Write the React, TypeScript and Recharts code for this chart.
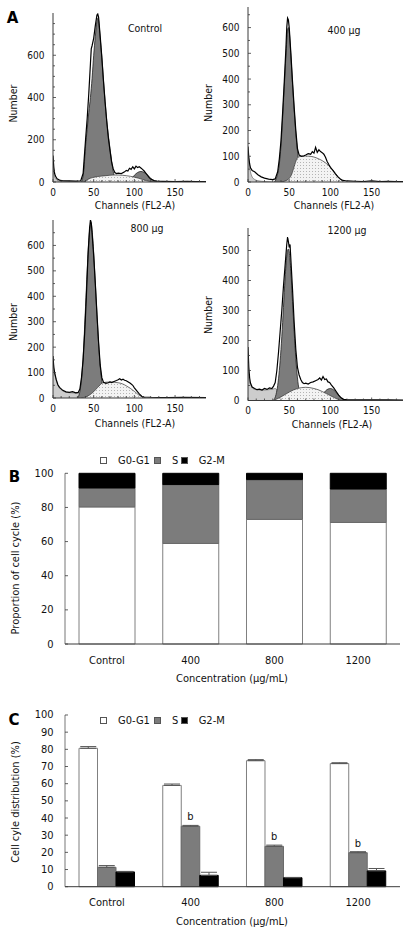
import React from "react";
import {
  Area,
  Bar,
  BarChart,
  ComposedChart,
  ErrorBar,
  LabelList,
  Line,
  XAxis,
  YAxis,
} from "recharts";

const FONT = "'DejaVu Sans Condensed', 'Liberation Sans', sans-serif";
const AXIS = "#3a3a3a";
const DARK = "#7c7c7c";
const LIGHT = "#cdcdcd";

type Pt = [number, number];

// ---- Panel A: histograms, [channel, count] ----
const CHANNEL_TICKS = [0, 10, 20, 30, 40, 50, 60, 70, 80, 90, 100, 110, 120, 130, 140, 150, 160, 170, 180];
const CHANNEL_LABELS = [0, 50, 100, 150];

const CTRL_DEBRIS: Pt[] = [[0, 90], [1, 45], [2, 25], [4, 12], [6, 6], [10, 3], [20, 2], [30, 0]];
const CTRL_G1: Pt[] = [[35, 0], [38, 60], [40, 170], [42, 250], [44, 330], [46, 400], [48, 490], [50, 600], [52, 690], [54, 760], [55, 775], [56, 765], [58, 680], [60, 590], [62, 480], [64, 380], [66, 290], [68, 220], [70, 160], [72, 100], [74, 50], [76, 15], [78, 0]];
const CTRL_S: Pt[] = [[38, 0], [42, 10], [46, 18], [50, 22], [55, 26], [60, 28], [65, 30], [70, 32], [75, 33], [80, 33], [85, 32], [90, 30], [95, 27], [100, 23], [105, 18], [110, 12], [115, 6], [120, 2], [125, 0]];
const CTRL_G2: Pt[] = [[92, 0], [96, 15], [100, 32], [104, 45], [108, 50], [112, 45], [116, 33], [120, 18], [124, 7], [128, 0]];
const CTRL_RAW: Pt[] = [[0, 125], [1, 70], [2, 40], [3, 28], [5, 15], [8, 9], [12, 6], [20, 5], [28, 4], [34, 5], [37, 40], [40, 200], [42, 300], [44, 420], [46, 560], [47, 630], [48, 645], [50, 680], [52, 740], [54, 790], [55, 795], [56, 780], [58, 690], [60, 590], [62, 480], [64, 380], [66, 290], [68, 210], [70, 150], [72, 95], [74, 62], [76, 45], [78, 40], [80, 42], [84, 40], [88, 48], [90, 55], [92, 52], [94, 65], [96, 60], [98, 72], [100, 62], [102, 75], [104, 68], [106, 72], [108, 66], [110, 60], [112, 52], [114, 42], [116, 32], [118, 22], [120, 14], [124, 7], [128, 4], [135, 3], [150, 2], [165, 3], [175, 2], [188, 2]];

const D400_DEBRIS: Pt[] = [[0, 120], [1, 90], [2, 60], [3, 40], [5, 20], [8, 10], [12, 5], [20, 2], [30, 0]];
const D400_G1: Pt[] = [[32, 0], [35, 20], [38, 70], [40, 140], [42, 250], [44, 370], [46, 490], [48, 590], [49, 600], [50, 585], [52, 490], [54, 380], [56, 280], [58, 190], [60, 120], [62, 65], [65, 25], [68, 8], [72, 0]];
const D400_S: Pt[] = [[40, 0], [45, 4], [50, 14], [53, 30], [56, 60], [59, 88], [62, 98], [65, 100], [70, 101], [75, 100], [80, 97], [85, 91], [90, 83], [95, 72], [100, 57], [105, 38], [110, 18], [113, 7], [116, 0]];
const D400_G2: Pt[] = [];
const D400_RAW: Pt[] = [[0, 138], [1, 95], [2, 70], [3, 55], [5, 45], [8, 40], [12, 28], [16, 20], [20, 15], [25, 11], [30, 9], [33, 12], [36, 40], [38, 90], [40, 160], [42, 270], [44, 390], [46, 520], [47, 600], [48, 637], [49, 630], [50, 600], [52, 500], [54, 390], [56, 290], [58, 200], [60, 130], [62, 105], [65, 100], [68, 102], [70, 105], [73, 110], [76, 108], [78, 118], [80, 112], [82, 135], [84, 115], [86, 125], [88, 118], [90, 114], [92, 108], [94, 96], [96, 80], [98, 68], [100, 57], [103, 45], [106, 32], [109, 20], [112, 12], [115, 6], [120, 4], [130, 3], [140, 2], [150, 4], [160, 2], [170, 3], [180, 2], [188, 2]];

const D800_DEBRIS: Pt[] = [[0, 150], [1, 120], [2, 98], [4, 70], [6, 50], [8, 40], [12, 28], [16, 23], [20, 21], [25, 20], [30, 19], [33, 15], [36, 5], [40, 0]];
const D800_G1: Pt[] = [[30, 0], [33, 25], [36, 110], [38, 220], [40, 360], [42, 500], [44, 620], [46, 680], [47, 685], [48, 660], [50, 570], [52, 450], [54, 330], [56, 215], [58, 125], [60, 65], [62, 28], [65, 8], [70, 0]];
const D800_S: Pt[] = [[35, 0], [40, 4], [45, 12], [50, 25], [55, 42], [58, 52], [60, 58], [65, 62], [70, 63], [75, 62], [80, 60], [85, 56], [90, 48], [95, 38], [100, 26], [105, 13], [110, 4], [114, 0]];
const D800_G2: Pt[] = [];
const D800_RAW: Pt[] = [[0, 165], [1, 120], [2, 100], [4, 72], [6, 52], [8, 42], [12, 30], [16, 24], [20, 22], [24, 25], [28, 20], [31, 22], [33, 35], [35, 80], [37, 150], [39, 260], [41, 400], [43, 560], [45, 670], [46, 700], [47, 690], [48, 650], [50, 560], [52, 450], [54, 330], [56, 220], [58, 130], [60, 80], [62, 62], [65, 58], [68, 60], [70, 63], [72, 61], [75, 65], [78, 69], [80, 72], [82, 76], [84, 71], [86, 74], [88, 70], [90, 68], [92, 64], [95, 58], [98, 50], [100, 40], [103, 28], [106, 16], [109, 7], [112, 4], [120, 3], [140, 2], [160, 3], [188, 2]];

const D1200_DEBRIS: Pt[] = [[0, 120], [1, 80], [2, 62], [4, 48], [6, 40], [10, 36], [15, 35], [20, 35], [25, 36], [30, 38], [33, 40], [36, 30], [40, 10], [43, 0]];
const D1200_G1: Pt[] = [[31, 0], [34, 20], [36, 50], [38, 100], [40, 170], [42, 260], [44, 360], [46, 450], [48, 500], [49, 505], [50, 495], [52, 430], [54, 330], [56, 230], [58, 140], [60, 75], [62, 35], [65, 10], [70, 0]];
const D1200_S: Pt[] = [[30, 0], [35, 5], [40, 12], [45, 20], [50, 28], [55, 35], [60, 40], [65, 43], [70, 44], [75, 43], [80, 40], [85, 36], [90, 30], [95, 23], [100, 16], [105, 9], [110, 3], [115, 0]];
const D1200_G2: Pt[] = [[85, 0], [88, 10], [91, 22], [94, 32], [97, 38], [100, 40], [103, 37], [106, 30], [109, 20], [112, 10], [116, 3], [120, 0]];
const D1200_RAW: Pt[] = [[0, 178], [1, 110], [2, 75], [3, 58], [5, 45], [8, 40], [11, 36], [14, 38], [17, 35], [20, 40], [23, 37], [26, 42], [29, 40], [31, 48], [33, 60], [35, 100], [37, 160], [39, 230], [41, 300], [43, 380], [45, 450], [47, 520], [48, 545], [49, 530], [50, 510], [51, 520], [52, 470], [54, 370], [56, 260], [58, 170], [60, 110], [62, 85], [64, 70], [66, 60], [68, 56], [70, 58], [73, 55], [76, 60], [79, 62], [82, 66], [85, 70], [87, 75], [89, 68], [91, 80], [93, 70], [95, 72], [97, 62], [99, 60], [101, 52], [104, 42], [107, 30], [110, 18], [113, 9], [116, 4], [120, 3], [130, 2], [150, 2], [170, 2], [188, 1]];

// ---- Panels B and C ----
const CONCS = ["Control", "400", "800", "1200"];
const PHASES = ["G0-G1", "S", "G2-M"];

const B_G1 = [80.3, 58.9, 73.0, 71.2];
const B_S = [11.1, 34.5, 23.3, 19.6];
const B_G2M = [8.6, 6.6, 3.7, 9.2];

const C_G1 = [80.6, 59.0, 73.4, 71.7];
const C_G1_ERR = [1.0, 0.8, 0.6, 0.5];
const C_S = [11.3, 35.2, 23.5, 19.8];
const C_S_ERR = [1.0, 0.5, 0.7, 0.6];
const C_G2M = [8.6, 6.6, 5.2, 9.2];
const C_G2M_ERR = [0.3, 1.8, 0.2, 1.4];
const C_SIG = ["", "b", "b", "b"];

const B_TICKS = [0, 20, 40, 60, 80, 100];
const C_TICKS = [0, 10, 20, 30, 40, 50, 60, 70, 80, 90, 100];

function buildRows(series: Record<string, Pt[]>) {
  const map = new Map<number, Record<string, number>>();
  for (const [key, pts] of Object.entries(series)) {
    for (const [c, v] of pts) {
      const row = map.get(c) ?? { ch: c };
      row[key] = v;
      map.set(c, row);
    }
  }
  return [...map.values()].sort((a, b) => a.ch - b.ch);
}

function HistXTick(props: any) {
  const { x, y, payload } = props;
  const v = payload.value;
  const lab = CHANNEL_LABELS.includes(v);
  return (
    <g>
      <line x1={x} x2={x} y1={y} y2={y - (lab ? 3 : 2)} stroke={AXIS} strokeWidth={0.8} />
      {lab && (
        <text x={x} y={y + 10} textAnchor="middle" dominantBaseline="central" fontFamily={FONT} fontSize={10} fill="#111">
          {v}
        </text>
      )}
    </g>
  );
}

const histYTick = (labels: number[]) => (props: any) => {
  const { x, y, payload } = props;
  const v = payload.value;
  const lab = labels.includes(v);
  return (
    <g>
      <line x1={x} x2={x + (lab ? 3 : 2)} y1={y} y2={y} stroke={AXIS} strokeWidth={0.8} />
      {lab && (
        <text x={x - 8.5} y={y} textAnchor="end" dominantBaseline="central" fontFamily={FONT} fontSize={10} fill="#111">
          {v}
        </text>
      )}
    </g>
  );
};

type HistProps = {
  id: string;
  debris: Pt[];
  g1: Pt[];
  s: Pt[];
  g2: Pt[];
  raw: Pt[];
  yMax: number;
  yTicks: number[];
  yLabels: number[];
  plotLeft: number;
  plotTop: number;
  plotW: number;
  plotH: number;
};

function Histogram({ id, debris, g1, s, g2, raw, yMax, yTicks, yLabels, plotLeft, plotTop, plotW, plotH }: HistProps) {
  const rows = buildRows({ debris, g1, s, g2, raw });
  const width = 53 + plotW + 4;
  const height = 4 + plotH + 30;
  return (
    <div style={{ position: "absolute", left: plotLeft - 53, top: plotTop - 4 }}>
      <ComposedChart width={width} height={height} data={rows} margin={{ top: 4, right: 4, left: 0, bottom: 0 }}>
        <defs>
          <pattern id={`dots-${id}`} width={3} height={3} patternUnits="userSpaceOnUse">
            <rect width={3} height={3} fill="#f3f3f3" />
            <rect width={1} height={1} fill="#b4b4b4" />
          </pattern>
        </defs>
        <XAxis
          type="number"
          dataKey="ch"
          domain={[0, 188]}
          ticks={CHANNEL_TICKS}
          interval={0}
          height={30}
          tickSize={0}
          tickMargin={0}
          tickLine={false}
          axisLine={{ stroke: AXIS }}
          tick={HistXTick}
          allowDataOverflow
        />
        <YAxis
          type="number"
          domain={[0, yMax]}
          ticks={yTicks}
          interval={0}
          width={53}
          tickSize={0}
          tickMargin={0}
          tickLine={false}
          axisLine={{ stroke: AXIS }}
          tick={histYTick(yLabels)}
          allowDataOverflow
        />
        <Area type="monotone" dataKey="debris" connectNulls fill={LIGHT} fillOpacity={1} stroke="#555" strokeWidth={0.6} dot={false} activeDot={false} isAnimationActive={false} />
        <Area type="monotone" dataKey="g1" connectNulls fill={DARK} fillOpacity={1} stroke="#222" strokeWidth={0.8} dot={false} activeDot={false} isAnimationActive={false} />
        <Area type="monotone" dataKey="g2" connectNulls fill={DARK} fillOpacity={1} stroke="#222" strokeWidth={0.8} dot={false} activeDot={false} isAnimationActive={false} />
        <Area type="monotone" dataKey="s" connectNulls fill={`url(#dots-${id})`} fillOpacity={1} stroke="#333" strokeWidth={0.7} dot={false} activeDot={false} isAnimationActive={false} />
        <Line type="linear" dataKey="raw" connectNulls stroke="#000" strokeWidth={1.2} dot={false} activeDot={false} isAnimationActive={false} />
      </ComposedChart>
    </div>
  );
}

function CatTick(offset: number) {
  return (props: any) => {
    const { x, y, payload } = props;
    return (
      <text x={x} y={y + offset} textAnchor="middle" dominantBaseline="central" fontFamily={FONT} fontSize={11} fill="#111">
        {payload.value}
      </text>
    );
  };
}

function PctTick(props: any) {
  const { x, y, payload } = props;
  return (
    <g>
      <line x1={x} x2={x + 3} y1={y} y2={y} stroke={AXIS} strokeWidth={0.8} />
      <text x={x - 11.5} y={y} textAnchor="end" dominantBaseline="central" fontFamily={FONT} fontSize={11} fill="#111">
        {payload.value}
      </text>
    </g>
  );
}

function PhaseLegend({ top }: { top: number }) {
  const fills = ["#ffffff", DARK, "#000000"];
  const widths = [54, 26.7, 60];
  return (
    <div style={{ position: "absolute", left: 100, top, display: "flex", alignItems: "center", fontFamily: FONT, fontSize: 11, lineHeight: "12px", color: "#111" }}>
      {PHASES.map((p, i) => (
        <div key={p} style={{ width: widths[i], display: "flex", alignItems: "center" }}>
          <span style={{ display: "inline-block", width: 7, height: 7, boxSizing: "border-box", border: "1px solid #555", background: fills[i] }} />
          <span style={{ marginLeft: 11 }}>{p}</span>
        </div>
      ))}
    </div>
  );
}

export default function App() {
  const bRows = CONCS.map((c, i) => ({ conc: c, g1: B_G1[i], s: B_S[i], g2m: B_G2M[i] }));
  const cRows = CONCS.map((c, i) => ({
    conc: c,
    g1: C_G1[i],
    s: C_S[i],
    g2m: C_G2M[i],
    g1Err: [0, C_G1_ERR[i]],
    sErr: [0, C_S_ERR[i]],
    g2mErr: [0, C_G2M_ERR[i]],
    sig: C_SIG[i],
  }));

  const txt = { fontFamily: FONT, fill: "#111" } as const;

  return (
    <div style={{ position: "absolute", left: 0, top: 0, width: 411, height: 936, background: "#fff", overflow: "hidden" }}>
      <Histogram id="ctrl" debris={CTRL_DEBRIS} g1={CTRL_G1} s={CTRL_S} g2={CTRL_G2} raw={CTRL_RAW}
        yMax={800} yTicks={[0, 50, 100, 150, 200, 250, 300, 350, 400, 450, 500, 550, 600, 650, 700, 750]} yLabels={[0, 200, 400, 600]}
        plotLeft={53} plotTop={13} plotW={153} plotH={169} />
      <Histogram id="d400" debris={D400_DEBRIS} g1={D400_G1} s={D400_S} g2={D400_G2} raw={D400_RAW}
        yMax={680} yTicks={[0, 50, 100, 150, 200, 250, 300, 350, 400, 450, 500, 550, 600, 650]} yLabels={[0, 100, 200, 300, 400, 500, 600]}
        plotLeft={248} plotTop={7} plotW={155} plotH={175} />
      <Histogram id="d800" debris={D800_DEBRIS} g1={D800_G1} s={D800_S} g2={D800_G2} raw={D800_RAW}
        yMax={700} yTicks={[0, 50, 100, 150, 200, 250, 300, 350, 400, 450, 500, 550, 600, 650]} yLabels={[0, 100, 200, 300, 400, 500, 600]}
        plotLeft={53} plotTop={220} plotW={153} plotH={178} />
      <Histogram id="d1200" debris={D1200_DEBRIS} g1={D1200_G1} s={D1200_S} g2={D1200_G2} raw={D1200_RAW}
        yMax={575} yTicks={[0, 50, 100, 150, 200, 250, 300, 350, 400, 450, 500, 550]} yLabels={[0, 100, 200, 300, 400, 500]}
        plotLeft={248} plotTop={227.5} plotW={155} plotH={172.5} />

      {/* Panel B: stacked proportions */}
      <div style={{ position: "absolute", left: 10, top: 455 }}>
        <BarChart width={395} height={219} data={bRows} margin={{ top: 18.3, right: 5, left: 0, bottom: 0 }} barSize={56}>
          <XAxis dataKey="conc" height={30} tickSize={0} tickMargin={0} tickLine={false} axisLine={{ stroke: AXIS }} tick={CatTick(16)} interval={0} />
          <YAxis type="number" domain={[0, 100]} ticks={B_TICKS} interval={0} width={55} tickSize={0} tickMargin={0} tickLine={false} axisLine={{ stroke: "#777" }} tick={PctTick} />
          <Bar dataKey="g1" stackId="a" fill="#ffffff" stroke="#808080" strokeWidth={1} isAnimationActive={false} />
          <Bar dataKey="s" stackId="a" fill={DARK} stroke="#6a6a6a" strokeWidth={1} isAnimationActive={false} />
          <Bar dataKey="g2m" stackId="a" fill="#000000" stroke="#000" strokeWidth={1} isAnimationActive={false} />
        </BarChart>
      </div>
      <PhaseLegend top={454.7} />

      {/* Panel C: grouped distribution with error bars */}
      <div style={{ position: "absolute", left: 10, top: 700 }}>
        <BarChart width={395} height={216.7} data={cRows} margin={{ top: 15, right: 5, left: 0, bottom: 0 }} barSize={18.5} barGap={0}>
          <XAxis dataKey="conc" height={30} tickSize={0} tickMargin={0} tickLine={false} axisLine={{ stroke: AXIS }} tick={CatTick(15.5)} interval={0} />
          <YAxis type="number" domain={[0, 100]} ticks={C_TICKS} interval={0} width={55} tickSize={0} tickMargin={0} tickLine={false} axisLine={{ stroke: "#777" }} tick={PctTick} />
          <Bar dataKey="g1" fill="#ffffff" stroke="#808080" strokeWidth={1} isAnimationActive={false}>
            <ErrorBar dataKey="g1Err" width={8} stroke="#555" strokeWidth={1} direction="y" />
          </Bar>
          <Bar dataKey="s" fill={DARK} stroke="#6a6a6a" strokeWidth={1} isAnimationActive={false}>
            <ErrorBar dataKey="sErr" width={8} stroke="#555" strokeWidth={1} direction="y" />
            <LabelList dataKey="sig" position="top" offset={6} style={{ fontFamily: FONT, fontSize: 11, fill: "#111" }} />
          </Bar>
          <Bar dataKey="g2m" fill="#000000" stroke="#000" strokeWidth={1} isAnimationActive={false}>
            <ErrorBar dataKey="g2mErr" width={8} stroke="#555" strokeWidth={1} direction="y" />
          </Bar>
        </BarChart>
      </div>
      <PhaseLegend top={714.7} />

      <svg width={411} height={936} style={{ position: "absolute", left: 0, top: 0, pointerEvents: "none" }}>
        <text x={12.5} y={17.5} dominantBaseline="central" textAnchor="middle" fontFamily="'DejaVu Sans', sans-serif" fontWeight="bold" fontSize={15} fill="#000">A</text>
        <text x={14.5} y={476.5} dominantBaseline="central" textAnchor="middle" fontFamily="'DejaVu Sans', sans-serif" fontWeight="bold" fontSize={15} fill="#000">B</text>
        <text x={14} y={720} dominantBaseline="central" textAnchor="middle" fontFamily="'DejaVu Sans', sans-serif" fontWeight="bold" fontSize={15} fill="#000">C</text>

        <text x={145} y={28} dominantBaseline="central" textAnchor="middle" fontSize={10.5} {...txt}>Control</text>
        <text x={344} y={30} dominantBaseline="central" textAnchor="middle" fontSize={10.5} {...txt}>400 μg</text>
        <text x={147} y={228} dominantBaseline="central" textAnchor="middle" fontSize={10.5} {...txt}>800 μg</text>
        <text x={347} y={230} dominantBaseline="central" textAnchor="middle" fontSize={10.5} {...txt}>1200 μg</text>

        <text transform="translate(13,103.5) rotate(-90)" dominantBaseline="central" textAnchor="middle" fontSize={10.5} {...txt}>Number</text>
        <text transform="translate(208,103) rotate(-90)" dominantBaseline="central" textAnchor="middle" fontSize={10.5} {...txt}>Number</text>
        <text transform="translate(13,322) rotate(-90)" dominantBaseline="central" textAnchor="middle" fontSize={10.5} {...txt}>Number</text>
        <text transform="translate(208,315) rotate(-90)" dominantBaseline="central" textAnchor="middle" fontSize={10.5} {...txt}>Number</text>

        <text x={135} y={205} dominantBaseline="central" textAnchor="middle" fontSize={10.5} {...txt}>Channels (FL2-A)</text>
        <text x={334} y={205} dominantBaseline="central" textAnchor="middle" fontSize={10.5} {...txt}>Channels (FL2-A)</text>
        <text x={135} y={423} dominantBaseline="central" textAnchor="middle" fontSize={10.5} {...txt}>Channels (FL2-A)</text>
        <text x={332} y={424} dominantBaseline="central" textAnchor="middle" fontSize={10.5} {...txt}>Channels (FL2-A)</text>

        <text transform="translate(15,568) rotate(-90)" dominantBaseline="central" textAnchor="middle" fontSize={11} {...txt}>Proportion of cell cycle (%)</text>
        <text x={232} y={678} dominantBaseline="central" textAnchor="middle" fontSize={11} {...txt}>Concentration (μg/mL)</text>

        <text transform="translate(15,802) rotate(-90)" dominantBaseline="central" textAnchor="middle" fontSize={11} {...txt}>Cell cyle distribution (%)</text>
        <text x={232} y={921} dominantBaseline="central" textAnchor="middle" fontSize={11} {...txt}>Concentration (μg/mL)</text>
      </svg>
    </div>
  );
}
